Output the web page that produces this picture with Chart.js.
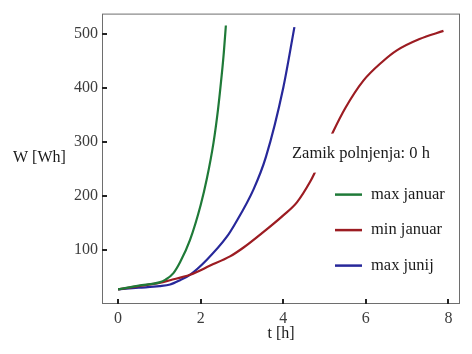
<!DOCTYPE html>
<html>
<head>
<meta charset="utf-8">
<script src="https://cdn.jsdelivr.net/npm/chart.js@4"></script>
<style>
  html, body { margin: 0; padding: 0; background: #fff; }
  #wrap { width: 472px; height: 354px; }
</style>
</head>
<body>
<div id="wrap"><canvas id="chart" width="472" height="354"></canvas></div>
<script>
// series (t in hours, W in Wh)
const seriesNames = ["max januar", "min januar", "max junij"];
const seriesColors = ["#1f7a38", "#9c1c22", "#27289a"];

const maxJanuarT = [0, 0.5, 1.0, 1.15, 1.34, 1.5, 1.74, 2.0, 2.15, 2.31, 2.42, 2.51, 2.56, 2.61];
const maxJanuarW = [27, 34, 40, 45, 57, 77, 118, 183, 232, 298, 360, 424, 465, 515];

const minJanuarT = [0, 0.5, 1.0, 1.26, 1.74, 2.23, 2.71, 3.03, 3.5, 4.0, 4.33, 4.65, 4.75, 5.21, 5.5, 5.94, 6.4, 6.75, 7.3, 7.88];
const minJanuarW = [27, 33, 39, 44, 54, 71, 88, 104, 132, 164, 188, 226, 241, 319, 362, 413, 448, 469, 490, 505];

const maxJunijT = [0, 0.5, 1.0, 1.26, 1.5, 1.74, 2.15, 2.63, 2.83, 3.28, 3.58, 4.0, 4.27];
const maxJunijW = [27, 30, 33, 36, 44, 54, 82, 124, 148, 212, 272, 400, 512];

const xTicks = [0, 2, 4, 6, 8];
const yTicks = [100, 200, 300, 400, 500];

const xTitle = "t [h]";
const yTitle = "W [Wh]";
const noteText = "Zamik polnjenja: 0 h";

function pts(ts, ws) {
    return ts.map((t, i) => ({ x: t, y: ws[i] }));
}

const serifFont = "'Times New Roman', 'Liberation Serif', 'DejaVu Serif', serif";

const decorPlugin = {
    id: "decor",
    afterDatasetsDraw(chart) {
        const ctx = chart.ctx;
        const a = chart.chartArea;
        const xs = chart.scales.x;
        const ys = chart.scales.y;
        ctx.save();

        // white box behind the note (hides part of the red curve)
        ctx.fillStyle = "#fff";
        ctx.fillRect(a.left + 188, a.top + 120, 146, 39);
        ctx.fillStyle = "#1a1a1a";
        ctx.font = "16.5px " + serifFont;
        ctx.textBaseline = "middle";
        ctx.textAlign = "left";
        ctx.fillText(noteText, a.left + 190, a.top + 140);

        // legend
        chart.data.datasets.forEach((ds, i) => {
            const y = a.top + 181 + i * 35.5;
            ctx.strokeStyle = ds.borderColor;
            ctx.lineWidth = 2.5;
            ctx.beginPath();
            ctx.moveTo(a.left + 233, y);
            ctx.lineTo(a.left + 260, y);
            ctx.stroke();
            ctx.fillStyle = "#1a1a1a";
            ctx.fillText(ds.label, a.left + 269, y);
        });

        // frame
        ctx.strokeStyle = "#6e6e6e";
        ctx.lineWidth = 1;
        ctx.strokeRect(a.left + 0.5, a.top + 0.5, a.right - a.left - 1, a.bottom - a.top - 1);

        // inward ticks
        ctx.strokeStyle = "#222";
        ctx.lineWidth = 2;
        xs.ticks.forEach(tk => {
            const px = Math.round(xs.getPixelForValue(tk.value));
            ctx.beginPath();
            ctx.moveTo(px, a.bottom);
            ctx.lineTo(px, a.bottom - 5);
            ctx.stroke();
        });
        ys.ticks.forEach(tk => {
            const py = Math.round(ys.getPixelForValue(tk.value));
            ctx.beginPath();
            ctx.moveTo(a.left, py);
            ctx.lineTo(a.left + 5, py);
            ctx.stroke();
        });

        // axis titles
        ctx.fillStyle = "#1a1a1a";
        ctx.font = "16px " + serifFont;
        ctx.textAlign = "left";
        ctx.fillText(yTitle, 13, a.top + 144);
        ctx.textAlign = "center";
        ctx.fillText(xTitle, (a.left + a.right) / 2, a.bottom + 30);
        ctx.restore();
    }
};

new Chart(document.getElementById("chart"), {
    type: "line",
    data: {
        datasets: [
            { label: seriesNames[0], data: pts(maxJanuarT, maxJanuarW), borderColor: seriesColors[0] },
            { label: seriesNames[1], data: pts(minJanuarT, minJanuarW), borderColor: seriesColors[1] },
            { label: seriesNames[2], data: pts(maxJunijT, maxJunijW), borderColor: seriesColors[2] },
        ].map(d => Object.assign(d, {
            borderWidth: 2.2,
            pointRadius: 0,
            fill: false,
            cubicInterpolationMode: "monotone",
        })),
    },
    options: {
        responsive: false,
        animation: false,
        layout: { padding: { left: 0, top: 13, right: 12, bottom: 0 } },
        plugins: {
            legend: { display: false },
            tooltip: { enabled: false },
        },
        scales: {
            x: {
                type: "linear",
                min: -0.39,
                max: 8.28,
                grid: { display: false, drawTicks: false },
                border: { display: false },
                afterBuildTicks: s => { s.ticks = xTicks.map(v => ({ value: v })); },
                afterFit: s => { s.height = 50; },
                ticks: {
                    color: "#3c3c3c",
                    font: { family: serifFont, size: 16 },
                    padding: 5,
                    maxRotation: 0,
                },
            },
            y: {
                type: "linear",
                min: 0,
                max: 537,
                grid: { display: false, drawTicks: false },
                border: { display: false },
                afterBuildTicks: s => { s.ticks = yTicks.map(v => ({ value: v })); },
                afterFit: s => { s.width = 102; },
                ticks: {
                    color: "#3c3c3c",
                    font: { family: serifFont, size: 16 },
                    padding: 4,
                },
            },
        },
    },
    plugins: [decorPlugin],
});
</script>
</body>
</html>
